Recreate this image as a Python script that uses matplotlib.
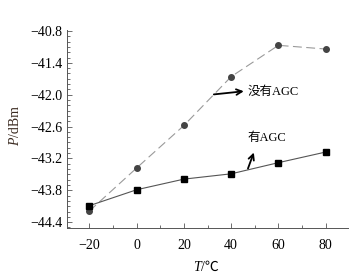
import matplotlib
matplotlib.use("Agg")
import matplotlib.pyplot as plt
from matplotlib.ticker import MultipleLocator

temps = [-20, 0, 20, 40, 60, 80]
no_agc = [-44.19, -43.38, -42.58, -41.66, -41.07, -41.14]
with_agc = [-44.09, -43.79, -43.59, -43.49, -43.28, -43.08]
yticks = [-40.8, -41.4, -42.0, -42.6, -43.2, -43.8, -44.4]
xticks = [-20, 0, 20, 40, 60, 80]

fam = ['Liberation Serif', 'Noto Sans CJK SC']
plt.rcParams['font.family'] = fam

fig = plt.figure(figsize=(3.6, 2.77), dpi=100)
ax = fig.add_axes([0.186, 0.177, 0.781, 0.715])

ax.plot(temps, no_agc, linestyle=(0, (8, 4)), color='#9a9a9a', lw=0.8,
        marker='o', markersize=4, markerfacecolor='#444444', markeredgecolor='#444444')
ax.plot(temps, with_agc, linestyle='-', color='#555555', lw=0.8,
        marker='s', markersize=4, markerfacecolor='black', markeredgecolor='black')

ax.set_xlim(-29.5, 89.5)
ax.set_ylim(-44.51, -40.78)
ax.set_xticks(xticks)
ax.set_yticks(yticks)
ax.set_xticklabels([f"{v}".replace('-', '\u2212') for v in xticks])
ax.set_yticklabels([f"{v:.1f}".replace('-', '\u2212') for v in yticks])
ax.xaxis.set_minor_locator(MultipleLocator(10))
ax.yaxis.set_minor_locator(MultipleLocator(0.1))
ax.tick_params(which='both', direction='in', labelsize=10, width=0.6, color='#555555')
ax.tick_params(which='major', length=3.5, pad=8)
ax.tick_params(axis='y', which='major', pad=3)
ax.tick_params(which='minor', length=2)
for s in ['top', 'right']:
    ax.spines[s].set_visible(False)
for s in ['left', 'bottom']:
    ax.spines[s].set_linewidth(0.7)
    ax.spines[s].set_color('#555555')

# x label "T/℃"
fig.text(0.558, 0.036, 'T', style='italic', fontsize=10, ha='right', va='center')
fig.text(0.558, 0.036, '/℃', fontsize=10, ha='left', va='center', family=fam)
# y label "P/dBm"
ycol = '#3a2a20'
fig.text(0.042, 0.505, 'P', style='italic', fontsize=10, rotation=90,
         ha='center', va='top', color=ycol)
fig.text(0.042, 0.505, '/dBm', fontsize=10, rotation=90,
         ha='center', va='bottom', color=ycol)

ax.annotate('', xy=(46.5, -41.93), xytext=(31.5, -42.0),
            arrowprops=dict(arrowstyle='->', lw=1.3, color='black'))
ax.text(47, -41.95, '没有AGC', fontsize=9, va='center', ha='left', family=fam)
ax.annotate('', xy=(50, -43.04), xytext=(46.7, -43.44),
            arrowprops=dict(arrowstyle='->', lw=1.3, color='black'))
ax.text(47, -42.81, '有AGC', fontsize=9, va='center', ha='left', family=fam)

fig.savefig('out.png', dpi=100)
